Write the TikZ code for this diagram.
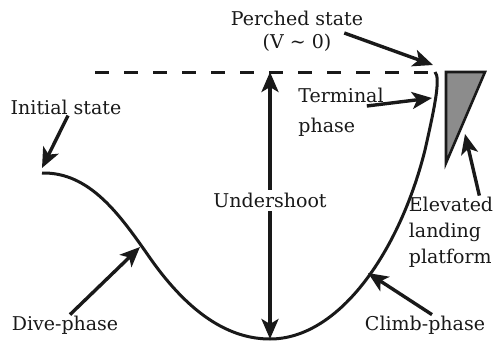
\documentclass[tikz,border=0pt]{standalone}
\usepackage{fontspec}
\setmainfont{DejaVu Serif}
\usetikzlibrary{arrows.meta, positioning}
\definecolor{inkgray}{RGB}{25,25,25}
\definecolor{platformgray}{RGB}{140,140,140}
\tikzset{
>={Stealth[length=20pt, width=17pt, inset=5pt]}, % big filled arrow heads
every node/.style={font=\fontsize{19}{26}\selectfont, text=inkgray, inner sep=1pt},
pointer/.style={->, line width=3.4pt, draw=inkgray}, % arrows from the labels
flight/.style={line width=3pt, draw=inkgray}, % the flight path
}

\begin{document}
\begin{tikzpicture}[x=1pt, y=-1pt]
      \useasboundingbox (0,0) rectangle (501,343);

      % points of the flight path
      \coordinate (start) at (42,173);
      \coordinate (bottom) at (270,339);
      \coordinate (perch) at (439,72);
      \coordinate (dashstart) at (95,72);
      \coordinate (levelpt) at (270,72);

      % tips of the pointers
      \coordinate (initialtip) at (42,168);
      \coordinate (divetip) at (140,247);
      \coordinate (climbtip) at (368,273);
      \coordinate (terminaltip) at (432,98);
      \coordinate (perchedtip) at (433,65);
      \coordinate (platformtip) at (465,134);

      % flight path and level of the perch
      \draw[flight] (start) .. controls (90,172) and (120,215) .. (150,258)
        .. controls (190,315) and (230,339) .. (bottom)
        .. controls (340,339) and (400,250) .. (425,150)
        .. controls (434,110) and (441,78) .. (435,72);
      \draw[flight, dash pattern=on 14pt off 15pt] (dashstart) -- (perch);

      % elevated platform
      \draw[line width=2.6pt, draw=inkgray, fill=platformgray, line join=miter]
        (446,72) -- (485,72) -- (446,163) -- cycle;

      % labels
      \node[align=center] (perched) at (297,31) {Perched state\\[-3pt](V \textasciitilde{} 0)};
      \node[align=left] (terminal) at (341,112) {Terminal\\[4pt]phase};
      \node (initial) at (66,107) {Initial state};
      \node (dive) at (65,325) {Dive-phase};
      \node (climb) at (425,325) {Climb-phase};
      \node[align=left] (elevated) at (451,232) {Elevated\\landing\\platform};

      % undershoot
      \draw[pointer, <->] (levelpt) -- node[fill=white, pos=0.48, inner sep=3pt] (undershoot) {Undershoot} (bottom);

      \draw[pointer] ([xshift=2pt]initial.south) -- (initialtip);
      \draw[pointer] ([xshift=5pt]dive.north) -- (divetip);
      \draw[pointer] ([xshift=7pt]climb.north) -- (climbtip);
      \draw[pointer] ([xshift=-18pt, yshift=6pt]terminal.east) -- (terminaltip);
      \draw[pointer] ([xshift=-20pt, yshift=-2pt]perched.east) -- (perchedtip);
      \draw[pointer] ([xshift=-15pt]elevated.north east) -- (platformtip);
    \end{tikzpicture}
\end{document}
